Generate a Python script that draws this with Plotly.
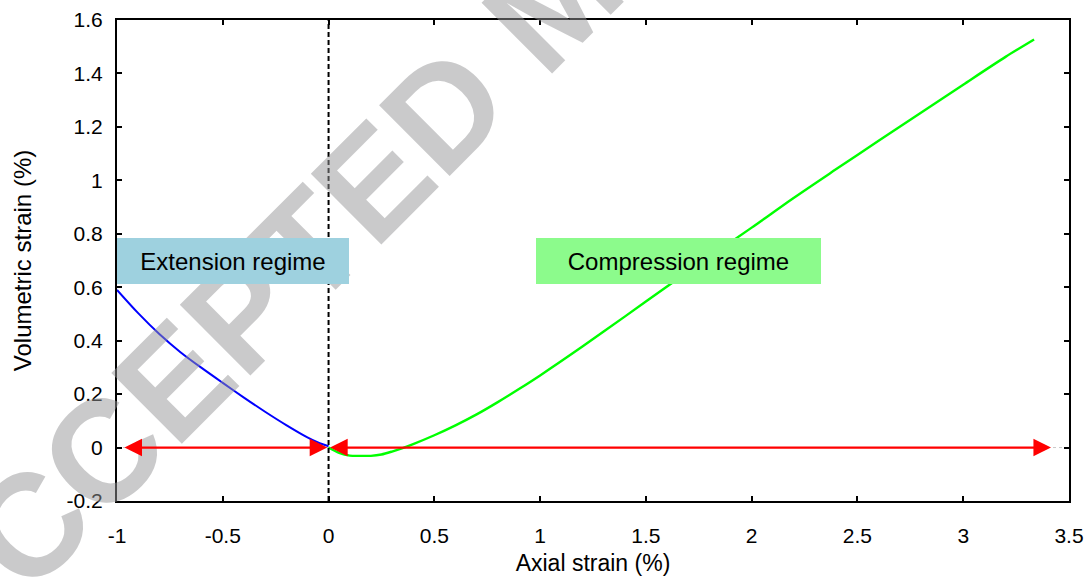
import plotly.graph_objects as go

# ---- data ----
ext_x = [-1, -0.9, -0.8, -0.7, -0.6, -0.5, -0.4, -0.3, -0.2, -0.1, -0.05, 0]
ext_y = [0.59, 0.503, 0.425, 0.357, 0.298, 0.242, 0.187, 0.134, 0.084, 0.038, 0.019, 0.005]

comp_x = [0, 0.05, 0.1, 0.15, 0.2, 0.25, 0.3, 0.35, 0.4, 0.5, 0.6, 0.7, 0.8, 0.9, 1.0,
          1.2, 1.4, 1.6, 1.8, 2.0, 2.2, 2.4, 2.6, 2.8, 3.0, 3.2, 3.335]
comp_y = [0, -0.02, -0.03, -0.031, -0.031, -0.026, -0.015, -0.002, 0.013, 0.046, 0.083,
          0.124, 0.17, 0.219, 0.27, 0.378, 0.49, 0.603, 0.713, 0.823, 0.935, 1.042, 1.148,
          1.253, 1.358, 1.462, 1.527]

# red double arrows along zero strain: (start, end)
arrow_starts = [-0.972, 0.0]
arrow_ends = [-0.006, 3.415]
arrow_level = 0.0

x_ticks = [-1, -0.5, 0, 0.5, 1, 1.5, 2, 2.5, 3, 3.5]
x_tick_labels = ["-1", "-0.5", "0", "0.5", "1", "1.5", "2", "2.5", "3", "3.5"]
y_ticks = [-0.2, 0, 0.2, 0.4, 0.6, 0.8, 1.0, 1.2, 1.4, 1.6]
y_tick_labels = ["-0.2", "0", "0.2", "0.4", "0.6", "0.8", "1", "1.2", "1.4", "1.6"]

regime_labels = ["Extension regime", "Compression regime"]
regime_x = [-0.451, 1.653]
regime_y = [0.699, 0.699]
regime_colors = ["#9ed1df", "#8cfb8c"]
regime_widths = [232, 285]

FONT = "Liberation Sans, Arial, Helvetica, sans-serif"

fig = go.Figure()

fig.add_trace(go.Scatter(x=ext_x, y=ext_y, mode="lines",
                         line=dict(color="#0000ff", width=2, shape="spline", smoothing=0.8),
                         showlegend=False))
fig.add_trace(go.Scatter(x=comp_x, y=comp_y, mode="lines",
                         line=dict(color="#00ff00", width=2.4, shape="spline", smoothing=0.8),
                         showlegend=False))

# zero axis (faint dotted) and dashed vertical line at zero axial strain
fig.add_shape(type="line", xref="x", yref="y", x0=-1, x1=3.5, y0=0, y1=0,
              line=dict(color="#c8c8c8", width=1, dash="dot"), layer="below")
fig.add_shape(type="line", xref="x", yref="paper", x0=0, x1=0, y0=0, y1=1,
              line=dict(color="black", width=2, dash="5px,3px"), layer="above")

annotations = []
# watermark
annotations.append(dict(
    text="<b>ACCEPTED MANUSCRIPT</b>", xref="paper", yref="paper",
    x=0.461, y=1.044, xanchor="center", yanchor="middle", showarrow=False,
    textangle=-45, font=dict(family=FONT, size=145, color="rgba(150,150,152,0.5)")))

for lab, bx, by, bc, bw in zip(regime_labels, regime_x, regime_y, regime_colors, regime_widths):
    annotations.append(dict(
        text=lab, x=bx, y=by, xref="x", yref="y", showarrow=False,
        xanchor="center", yanchor="middle", bgcolor=bc, width=bw, height=46,
        borderpad=0, borderwidth=0, align="center",
        font=dict(family=FONT, size=24, color="black")))

for s, e in zip(arrow_starts, arrow_ends):
    annotations.append(dict(
        x=e, y=arrow_level, ax=s, ay=arrow_level, xref="x", yref="y",
        axref="x", ayref="y", text="", showarrow=True,
        arrowhead=2, startarrowhead=2, arrowside="end+start",
        arrowsize=1.6, startarrowsize=1.6, arrowwidth=2.2, arrowcolor="#ff0000",
        standoff=0, startstandoff=0))

fig.update_layout(
    width=1089, height=578,
    margin=dict(l=117, r=20, t=20, b=77),
    paper_bgcolor="white", plot_bgcolor="white",
    font=dict(family=FONT, size=21, color="black"),
    annotations=annotations,
    showlegend=False,
)

fig.update_xaxes(
    range=[-1, 3.5], tickvals=x_ticks, ticktext=x_tick_labels,
    ticks="inside", ticklen=5, tickwidth=1.5, tickcolor="black",
    showline=True, linecolor="black", linewidth=2, mirror="ticks",
    showgrid=False, zeroline=False, automargin=False,
    tickfont=dict(family=FONT, size=21), ticklabelstandoff=15,
    title=dict(text="Axial strain (%)", font=dict(family=FONT, size=23), standoff=9),
)
fig.update_yaxes(
    range=[-0.2, 1.6], tickvals=y_ticks, ticktext=y_tick_labels,
    ticks="inside", ticklen=5, tickwidth=1.5, tickcolor="black",
    showline=True, linecolor="black", linewidth=2, mirror="ticks",
    showgrid=False, zeroline=False, automargin=False,
    tickfont=dict(family=FONT, size=21), ticklabelstandoff=8,
    title=dict(text="Volumetric strain (%)", font=dict(family=FONT, size=24), standoff=28),
)

fig.write_html("out.html")
